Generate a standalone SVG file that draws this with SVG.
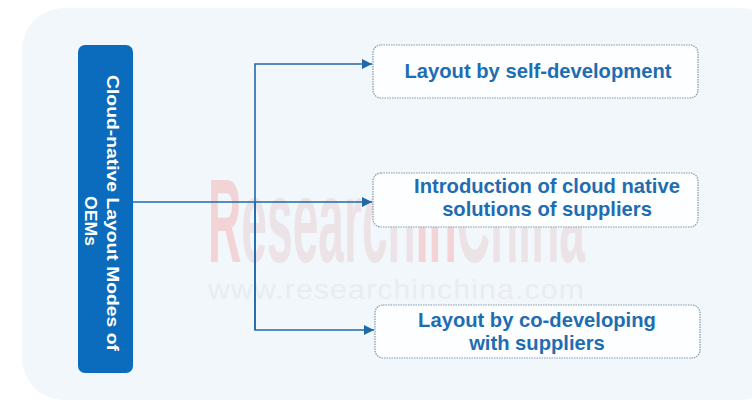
<svg xmlns="http://www.w3.org/2000/svg" width="752" height="407" viewBox="0 0 752 407">
  <defs>
    <marker id="arrow" viewBox="0 0 10 10" refX="10" refY="5" markerWidth="10" markerHeight="10" markerUnits="userSpaceOnUse" orient="auto">
      <path d="M0,0 L10,5 L0,10 z" fill="#1f6aa8"/>
    </marker>
    <style>
      .panel { fill: #f2f7fc; }
      .root { fill: #0b6cbd; }
      .root-text { font-family: "Liberation Sans", Arial, sans-serif; font-weight: bold; font-size: 16.5px; fill: #ffffff; text-anchor: middle; }
      .leaf { fill: #fdfeff; stroke: #8198ae; stroke-width: 1.2; stroke-dasharray: 1.5 1; }
      .leaf-text { font-family: "Liberation Sans", Arial, sans-serif; font-weight: bold; font-size: 20.2px; fill: #1e6db3; text-anchor: middle; }
      .link { fill: none; stroke: #1f6aa8; stroke-width: 1.6; }
      .wm-big { font-family: "Liberation Sans", Arial, sans-serif; font-weight: bold; font-size: 118px; fill: #ece3e6; }
      .wm-red { fill: #f2d3d6; }
      .wm-url { font-family: "Liberation Sans", Arial, sans-serif; font-size: 27px; fill: #e9ecf0; letter-spacing: 1px; }
    </style>
  </defs>

  <rect width="752" height="407" fill="#ffffff"/>
  <rect class="panel" x="22" y="8" width="760" height="392" rx="42" ry="42"/>

  <!-- watermark -->
  <g id="watermark">
    <text class="wm-big" x="208" y="262" textLength="377" lengthAdjust="spacingAndGlyphs"><tspan class="wm-red">R</tspan>esearch<tspan class="wm-red">In</tspan>China</text>
    <text class="wm-url" x="208" y="299" textLength="377" lengthAdjust="spacingAndGlyphs">www.researchinchina.com</text>
  </g>

  <!-- connectors -->
  <g id="connectors">
    <line class="link" x1="133" y1="202" x2="372" y2="202" marker-end="url(#arrow)"/>
    <polyline class="link" points="255,330 255,64 372,64" marker-end="url(#arrow)"/>
    <polyline class="link" points="255,202 255,330 374,330" marker-end="url(#arrow)"/>
  </g>

  <!-- root node -->
  <g id="root">
    <rect class="root" x="78" y="45" width="55" height="328" rx="7" ry="7"/>
    <text class="root-text" transform="translate(106.5,213) rotate(90)" textLength="276" lengthAdjust="spacingAndGlyphs">Cloud-native Layout Modes of</text>
    <text class="root-text" transform="translate(84.5,221) rotate(90)" textLength="50" lengthAdjust="spacingAndGlyphs">OEMs</text>
  </g>

  <!-- child nodes -->
  <g id="self-development">
    <rect class="leaf" x="373" y="45" width="325" height="53" rx="8" ry="8"/>
    <text class="leaf-text" x="538" y="78">Layout by self-development</text>
  </g>

  <g id="supplier-solutions">
    <rect class="leaf" x="373" y="173" width="325" height="54" rx="8" ry="8"/>
    <text class="leaf-text" x="547" y="193">Introduction of cloud native</text>
    <text class="leaf-text" x="547" y="216">solutions of suppliers</text>
  </g>

  <g id="co-developing">
    <rect class="leaf" x="375" y="305" width="325" height="53" rx="8" ry="8"/>
    <text class="leaf-text" x="537" y="327">Layout by co-developing</text>
    <text class="leaf-text" x="537" y="350">with suppliers</text>
  </g>
</svg>
